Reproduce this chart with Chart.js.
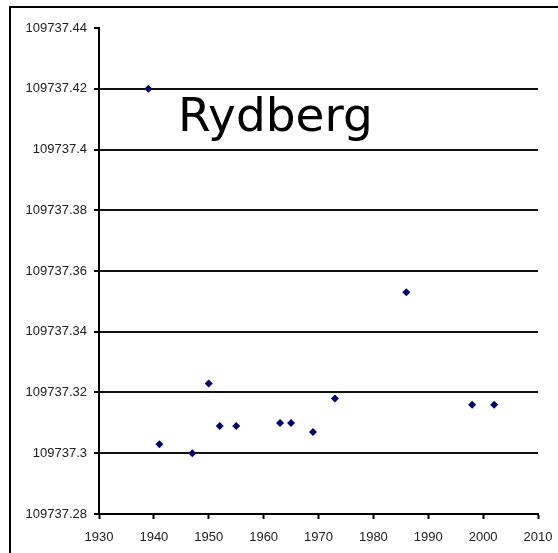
<!DOCTYPE html>
<html>
<head>
<meta charset="utf-8">
<script src="https://cdn.jsdelivr.net/npm/chart.js@4/dist/chart.umd.min.js"></script>
<style>
  html, body { margin: 0; padding: 0; background: #fff; }
  #wrap { width: 558px; height: 553px; position: relative; }
</style>
</head>
<body>
<div id="wrap"><canvas id="rydbergChart"></canvas></div>
<script>
// Measured values of the Rydberg constant (cm^-1) by year
const years = [1939, 1941, 1947, 1950, 1952, 1955, 1963, 1965, 1969, 1973, 1986, 1998, 2002];
const rydbergValues = [
  109737.420, 109737.303, 109737.300, 109737.323, 109737.309, 109737.309,
  109737.310, 109737.310, 109737.307, 109737.318, 109737.353, 109737.316, 109737.316
];
const xTicks = [1930, 1940, 1950, 1960, 1970, 1980, 1990, 2000, 2010];
const yMin = 109737.28, yMax = 109737.44, yStep = 0.02;

const labelFont = { family: '"Liberation Sans", Arial, sans-serif', size: 13 };

// outer frame and the big caption inside the plot
const decorations = {
  id: 'decorations',
  beforeDraw(chart) {
    const ctx = chart.ctx;
    ctx.save();
    ctx.fillStyle = '#fff';
    ctx.fillRect(0, 0, chart.width, chart.height);
    ctx.strokeStyle = '#000';
    ctx.lineWidth = 2;
    ctx.strokeRect(10, 7, 700, 700);
    ctx.restore();
  },
  afterDraw(chart) {
    const ctx = chart.ctx;
    ctx.save();
    ctx.fillStyle = '#000';
    ctx.font = '47px "DejaVu Sans", Verdana, sans-serif';
    ctx.textBaseline = 'alphabetic';
    ctx.fillText('Rydberg', 178, 131);
    ctx.restore();
  }
};

const points = years.map((yr, i) => ({ x: yr, y: rydbergValues[i] }));

new Chart(document.getElementById('rydbergChart'), {
  type: 'scatter',
  data: {
    datasets: [{
      data: points,
      backgroundColor: '#00007a',
      borderColor: '#00007a',
      pointStyle: 'rectRot',
      pointRadius: 4,
      borderWidth: 0
    }]
  },
  options: {
    responsive: true,
    maintainAspectRatio: false,
    animation: false,
    layout: { padding: { left: 0, top: 28, right: 20, bottom: 0 } },
    plugins: { legend: { display: false }, tooltip: { enabled: false } },
    scales: {
      x: {
        type: 'linear',
        min: 1930,
        max: 2010,
        afterFit: s => { s.height = 39; s.paddingLeft = 0; s.paddingRight = 0; },
        afterBuildTicks: s => { s.ticks = xTicks.map(v => ({ value: v })); },
        border: { display: true, color: '#000', width: 2 },
        grid: { drawOnChartArea: false, drawTicks: true, tickLength: 5, tickColor: '#000', tickWidth: 2 },
        ticks: {
          color: '#222',
          font: labelFont,
          padding: 11,
          maxRotation: 0,
          autoSkip: false,
          callback: v => String(v)
        }
      },
      y: {
        min: yMin,
        max: yMax,
        afterFit: s => { s.width = 99; s.paddingTop = 0; s.paddingBottom = 0; },
        border: { display: true, color: '#000', width: 2 },
        grid: {
          color: c => (c.tick && c.tick.value > yMax - 0.001) ? 'rgba(0,0,0,0)' : '#111',
          lineWidth: 2,
          tickLength: 5,
          tickColor: '#000',
          tickWidth: 2
        },
        ticks: {
          stepSize: yStep,
          color: '#222',
          font: labelFont,
          padding: 7,
          callback: v => String(Number(v.toFixed(2)))
        }
      }
    }
  },
  plugins: [decorations]
});
</script>
</body>
</html>
